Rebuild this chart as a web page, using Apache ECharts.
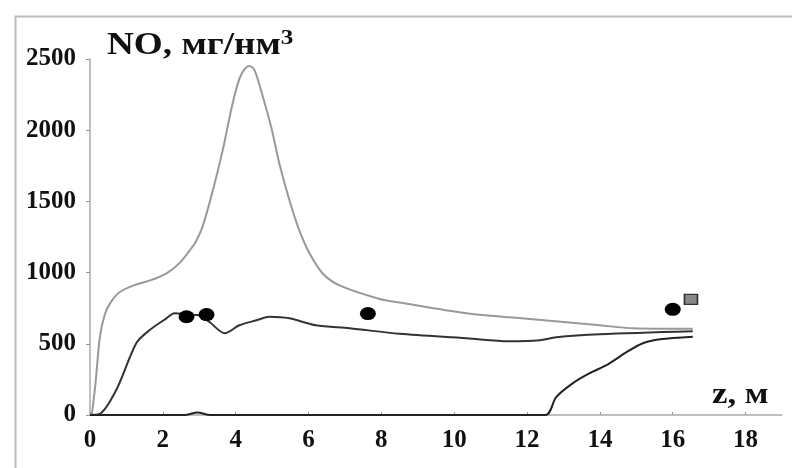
<!DOCTYPE html>
<html>
<head>
<meta charset="utf-8">
<script src="https://cdn.jsdelivr.net/npm/echarts@6/dist/echarts.min.js"></script>
<style>
  html, body { margin: 0; padding: 0; background: #fff; }
  #main { width: 792px; height: 468px; }
</style>
</head>
<body>
<div id="main"></div>
<script>
// подписи осей
const xTicks = [0, 2, 4, 6, 8, 10, 12, 14, 16, 18];
const yTicks = [0, 500, 1000, 1500, 2000, 2500];

// верхняя (светлая) кривая
const curveTop = [
  [0.05, 0], [0.15, 220], [0.27, 546], [0.4, 700], [0.55, 784], [0.8, 860],
  [1.2, 910], [1.65, 945], [2.1, 995], [2.45, 1065], [2.75, 1160], [2.9, 1215],
  [3.1, 1330], [3.37, 1575], [3.64, 1855], [3.9, 2170], [4.1, 2360], [4.25, 2430],
  [4.38, 2450], [4.52, 2420], [4.74, 2240], [4.98, 2017], [5.2, 1765], [5.48, 1505],
  [5.75, 1295], [6.03, 1134], [6.39, 994], [6.85, 910], [7.95, 815], [8.5, 790],
  [10.34, 714], [12.16, 672], [14.0, 630], [14.9, 609], [16.55, 605]
];

// средняя (тёмная) кривая
const curveMid = [
  [0, 0], [0.25, 5], [0.72, 175], [1.27, 504], [1.63, 595], [2.1, 679],
  [2.32, 714], [2.7, 705], [3.0, 700], [3.29, 651], [3.7, 574], [4.1, 630],
  [4.57, 665], [4.93, 690], [5.48, 679], [6.2, 630], [7.13, 609], [8.5, 570],
  [10.34, 539], [11.5, 518], [12.35, 525], [12.8, 546], [14.0, 567], [16.55, 588]
];

// нижняя кривая
const curveLow = [
  [0, 0], [2.6, 0], [2.95, 18], [3.3, 0], [12.5, 0], [12.8, 126], [13.26, 224],
  [13.72, 294], [14.18, 350], [14.73, 441], [15.18, 504], [15.65, 532], [16.55, 550]
];

// эксперимент
const dots = [[2.65, 690], [3.2, 705], [7.63, 712], [16.0, 742]];
const squares = [[16.5, 812]];

const chart = echarts.init(document.getElementById('main'));
const font = 'Liberation Serif';

chart.setOption({
  backgroundColor: '#fff',
  animation: false,
  grid: { left: 90, right: 10, top: 59, bottom: 53 },
  xAxis: {
    type: 'value',
    min: 0,
    max: 19,
    axisLine: { lineStyle: { color: '#aaa', width: 1.5 } },
    axisTick: { inside: true, length: 3, lineStyle: { color: '#999' }, customValues: xTicks },
    axisLabel: {
      customValues: xTicks,
      color: '#111', fontFamily: font, fontWeight: 'bold', fontSize: 25, margin: 13
    },
    splitLine: { show: false }
  },
  yAxis: {
    type: 'value',
    min: 0,
    max: 2500,
    axisLine: { show: true, lineStyle: { color: '#aaa', width: 1.5 } },
    axisTick: { show: true, length: 4, lineStyle: { color: '#999' }, customValues: yTicks },
    axisLabel: {
      customValues: yTicks,
      formatter: v => String(v),
      color: '#111', fontFamily: font, fontWeight: 'bold', fontSize: 25, margin: 14
    },
    splitLine: { show: false }
  },
  graphic: [
    {
      type: 'rect', left: 13, top: 14, silent: true,
      shape: { width: 820, height: 500 },
      style: { fill: 'none', stroke: '#bbb', lineWidth: 2 }
    },
    {
      // заголовок немного растянут по горизонтали, как в оригинале
      type: 'text', left: 107, top: 28, scaleX: 1.2,
      style: {
        text: '{a|NO, мг/нм}{b|3}',
        rich: {
          a: { fontFamily: font, fontWeight: 'bold', fontSize: 31, fill: '#111' },
          b: { fontFamily: font, fontWeight: 'bold', fontSize: 21, fill: '#111', verticalAlign: 'top', padding: [0, 0, 14, 0] }
        }
      }
    },
    {
      type: 'text', left: 712, top: 381, scaleX: 1.2,
      style: { text: 'z, м', fontFamily: font, fontWeight: 'bold', fontSize: 29, fill: '#111' }
    }
  ],
  series: [
    {
      type: 'line', data: curveTop, showSymbol: false, smooth: 0.3,
      lineStyle: { color: '#999', width: 2 }
    },
    {
      type: 'line', data: curveMid, showSymbol: false, smooth: 0.3,
      lineStyle: { color: '#333', width: 2 }
    },
    {
      type: 'line', data: curveLow, showSymbol: false, smooth: 0.3,
      lineStyle: { color: '#222', width: 2 }
    },
    {
      type: 'scatter', data: dots, symbol: 'circle', symbolSize: [16, 13],
      itemStyle: { color: '#000', opacity: 1 }, z: 5
    },
    {
      type: 'scatter', data: squares, symbol: 'rect', symbolSize: [13, 10],
      itemStyle: { color: '#888', borderColor: '#333', borderWidth: 1.5, opacity: 1 }, z: 5
    }
  ]
});
</script>
</body>
</html>
